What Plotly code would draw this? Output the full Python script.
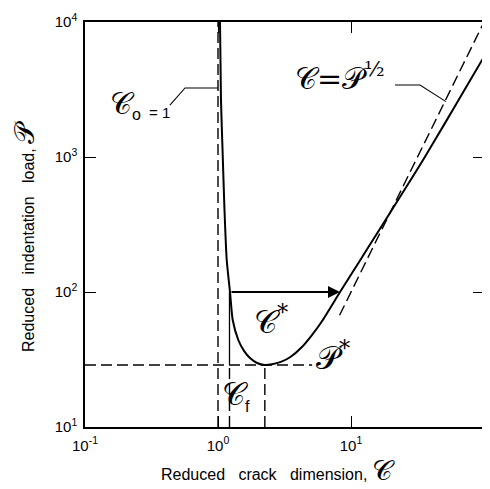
import numpy as np
import plotly.graph_objects as go

# ---- data ----
CURVE_C = [1.035, 1.053, 1.085, 1.119, 1.163, 1.231, 1.29, 1.421, 1.569, 1.74, 1.965,
           2.25, 2.6, 3.0, 3.5, 4.26, 5.0, 6.0, 8.27, 11.5, 15.6, 23.4, 35, 50.9, 75, 100]
CURVE_P = [10000, 2644, 1035, 405, 172.6, 100, 62.0, 44.1, 36.6, 32.4, 29.8,
           28.8, 29.3, 30.5, 33.0, 39.0, 47.0, 60.0, 100, 167, 269, 507, 959, 1782, 3412, 5530]

ASYM_C = [8.2, 100]        # dashed asymptote  C = P^(1/2)
ASYM_P = [67.2, 10000]

C_O = 1.0                  # initial flaw
C_F = 1.22                 # C_f
C_STAR = 2.25              # C*
P_STAR = 28.8              # P*
P_STAR_END_C = 5.1         # end of horizontal P* dashed line
P_ARROW = 100              # load of the horizontal arrow
C_ARROW_START = 1.231
C_ARROW_END = 8.27

X_RANGE = [0.1, 100]
Y_RANGE = [10, 10000]
X_TICKS = [0.1, 1, 10, 100]
X_TICK_TEXT = ["10<sup>-1</sup>", "10<sup>0</sup>", "10<sup>1</sup>", "10<sup>2</sup>"]
Y_TICKS = [10, 100, 1000, 10000]
Y_TICK_TEXT = ["10<sup>1</sup>", "10<sup>2</sup>", "10<sup>3</sup>", "10<sup>4</sup>"]

# leader lines for labels
LEAD_CO_C = [0.435, 0.565, 1.0]
LEAD_CO_P = [2427, 3245, 3245]
LEAD_AS_C = [21.4, 33.0, 51.8]
LEAD_AS_P = [3411, 3411, 2570]

SC = "\U0001D49E"   # script C
SP = "\U0001D4AB"   # script P

DASH = "11px,5px"
FONT = "Liberation Sans"
SERIF = "DejaVu Serif"

OFF = 8                       # page body margin
W, H = 482, 481
ML, MR, MT, MB = 77, 6, 14, 62
PW, PH = W - ML - MR, H - MT - MB


def lx(px):  # screen pixel -> log10 C (for label placement)
    return (px - OFF - ML) / PW * 3 - 1


def ly(py):  # screen pixel -> log10 P (for label placement)
    return 1 + (OFF + H - MB - py) / PH * 3


def paper_x(px):
    return (px - OFF - ML) / PW


def paper_y(py):
    return (OFF + H - MB - py) / PH


def sans_sub(t):
    return "<sub><span style='font-family:Liberation Sans;font-size:16px'>" + t + "</span></sub>"


fig = go.Figure()


def line(xs, ys, dash=None, width=1.4):
    fig.add_trace(go.Scatter(x=xs, y=ys, mode="lines",
                             line=dict(color="black", width=width, dash=dash),
                             hoverinfo="skip", showlegend=False))


# main curve
fig.add_trace(go.Scatter(x=CURVE_C, y=CURVE_P, mode="lines",
                         line=dict(color="black", width=2, shape="spline", smoothing=0.6),
                         hoverinfo="skip", showlegend=False))
line(ASYM_C, ASYM_P, DASH)                                   # asymptote
line([C_O, C_O], Y_RANGE, DASH)                              # C_o = 1
line([X_RANGE[0], P_STAR_END_C], [P_STAR, P_STAR], DASH)     # P*
line([C_STAR, C_STAR], [Y_RANGE[0], P_STAR], DASH)           # C*
line([C_F, C_F], [P_STAR, P_ARROW], None, 1.3)               # C_f (solid part)
line([C_F, C_F], [Y_RANGE[0], P_STAR], DASH)                 # C_f (dashed part)
line(LEAD_CO_C, LEAD_CO_P, None, 1.1)
line(LEAD_AS_C, LEAD_AS_P, None, 1.1)

ann = []
ann.append(dict(x=np.log10(C_ARROW_END), y=np.log10(P_ARROW),
                ax=np.log10(C_ARROW_START), ay=np.log10(P_ARROW),
                xref="x", yref="y", axref="x", ayref="y", text="", showarrow=True,
                arrowhead=2, arrowsize=1.2, arrowwidth=2, arrowcolor="black", standoff=0))


def label(px, py, txt, size, xanchor="center", family=SERIF):
    ann.append(dict(x=lx(px), y=ly(py), xref="x", yref="y", text=txt, xanchor=xanchor,
                    yanchor="middle", showarrow=False,
                    font=dict(family=family, size=size, color="black")))


label(143, 104, SC + sans_sub("o"), 30, "right")
label(147, 112, "= 1", 15, "left", FONT)
label(340, 76, SC + "=" + SP + "<sup>½</sup>", 30)
label(271, 320, SC + "<sup>*</sup>", 32)
label(333, 356, SP + "<sup>*</sup>", 32)
label(236, 395, SC + sans_sub("f"), 32)

# axis titles
ann.append(dict(x=paper_x(278), y=paper_y(470), xref="paper", yref="paper",
                text="Reduced\u00a0\u00a0\u00a0crack\u00a0\u00a0\u00a0dimension,\u00a0"
                     "<span style='font-family:DejaVu Serif;font-size:28px'>" + SC + "</span>",
                showarrow=False, xanchor="center", yanchor="middle",
                font=dict(family=FONT, size=16, color="black")))
ann.append(dict(x=paper_x(25), y=paper_y(236), xref="paper", yref="paper",
                text="Reduced\u00a0\u00a0\u00a0indentation\u00a0\u00a0\u00a0load,\u00a0"
                     "<span style='font-family:DejaVu Serif;font-size:28px'>" + SP + "</span>",
                showarrow=False, xanchor="center", yanchor="middle", textangle=-90,
                font=dict(family=FONT, size=16, color="black")))

fig.update_layout(annotations=ann)

axis_common = dict(type="log", showgrid=False, zeroline=False, showline=True, linecolor="black",
                   linewidth=1.5, mirror="ticks", ticks="inside", ticklen=11, tickwidth=1.2,
                   tickcolor="black", automargin=False,
                   tickfont=dict(family=FONT, size=15, color="black"))

fig.update_xaxes(range=[np.log10(X_RANGE[0]), np.log10(X_RANGE[1])], tickvals=X_TICKS,
                 ticktext=X_TICK_TEXT, ticklabelstandoff=4, **axis_common)
fig.update_yaxes(range=[np.log10(Y_RANGE[0]), np.log10(Y_RANGE[1])], tickvals=Y_TICKS,
                 ticktext=Y_TICK_TEXT, ticklabelstandoff=3, **axis_common)

fig.update_layout(width=W, height=H, margin=dict(l=ML, r=MR, t=MT, b=MB),
                  paper_bgcolor="white", plot_bgcolor="white")

fig.write_html("out.html")
